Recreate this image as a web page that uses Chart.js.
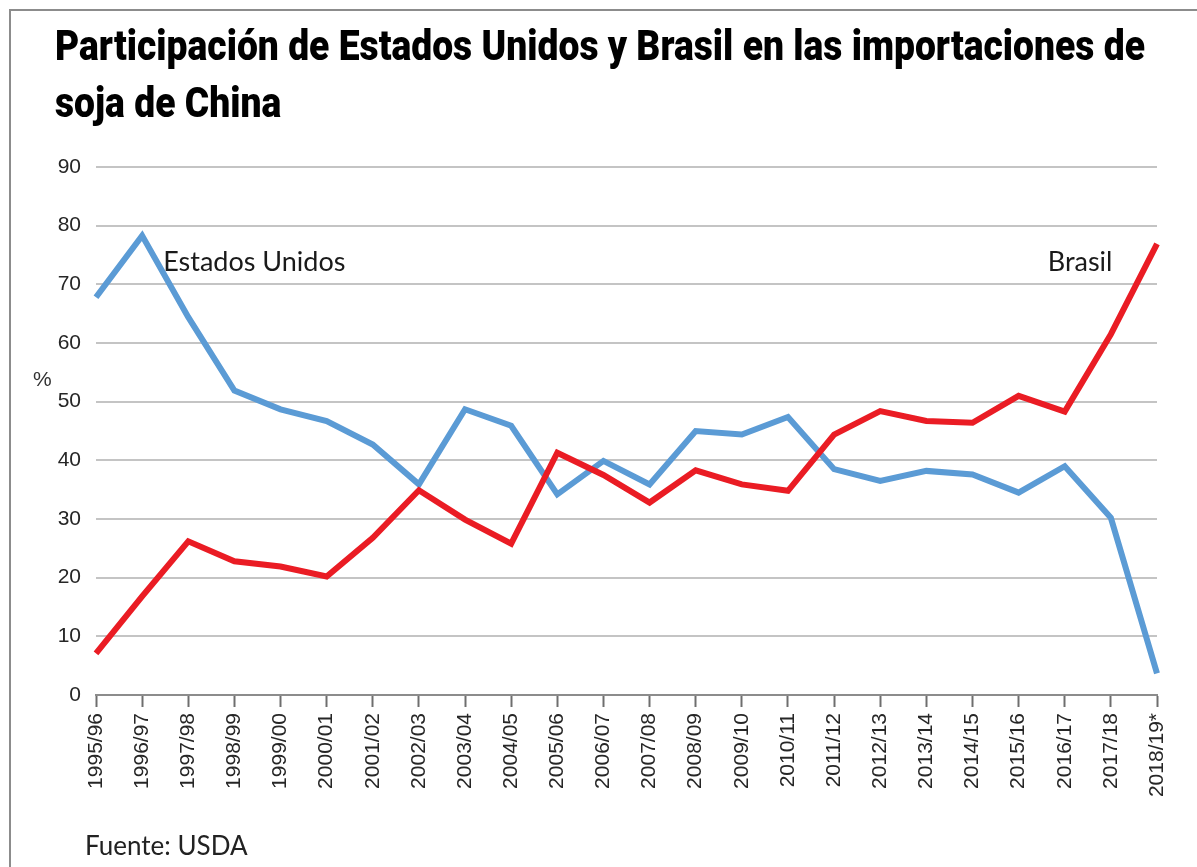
<!DOCTYPE html>
<html>
<head>
<meta charset="utf-8">
<script src="https://cdn.jsdelivr.net/npm/chart.js@4.4.1/dist/chart.umd.min.js"></script>
<style>
  html, body { margin: 0; padding: 0; background: #ffffff; }
  #wrap { position: relative; width: 1197px; height: 867px; overflow: hidden; background: #fff; }
  #frame { position: absolute; left: 9px; top: 9px; width: 1300px; height: 1000px;
           border-top: 2px solid #8c8c8c; border-left: 2px solid #8c8c8c; pointer-events: none; }
  canvas { position: absolute; left: 0; top: 0; }
</style>
</head>
<body>
<div id="wrap">
  <canvas id="c" width="1197" height="867"></canvas>
  <div id="frame"></div>
</div>
<script>
const categories = ['1995/96','1996/97','1997/98','1998/99','1999/00','2000/01','2001/02','2002/03',
  '2003/04','2004/05','2005/06','2006/07','2007/08','2008/09','2009/10','2010/11','2011/12',
  '2012/13','2013/14','2014/15','2015/16','2016/17','2017/18','2018/19*'];
const usShare = [67.8, 78.3, 64.4, 51.9, 48.7, 46.7, 42.7, 35.9, 48.7, 45.9, 34.2, 39.9,
  35.9, 45.0, 44.4, 47.4, 38.5, 36.5, 38.2, 37.6, 34.5, 39.0, 30.2, 3.7];
const brazilShare = [7.1, 16.8, 26.2, 22.8, 21.9, 20.2, 26.8, 34.9, 29.9, 25.8, 41.3, 37.5,
  32.8, 38.3, 35.9, 34.8, 44.4, 48.4, 46.7, 46.4, 51.0, 48.3, 61.5, 76.9];
const yMin = 0, yMax = 90, yStep = 10;
const titleLines = ['Participación de Estados Unidos y Brasil en las importaciones de', 'soja de China'];
const seriesNames = ['Estados Unidos', 'Brasil'];
const yAxisTitle = '%';
const sourceNote = 'Fuente: USDA';

const TICK_FONT = { family: '"Liberation Sans", Arial, sans-serif', size: 21 };
const LABEL_FAMILY = 'Lato, "Open Sans", sans-serif';

const textPlugin = {
  id: 'texts',
  afterDraw(chart) {
    const ctx = chart.ctx;
    const xs = chart.scales.x, ys = chart.scales.y;
    ctx.save();
    ctx.fillStyle = '#000';
    ctx.textBaseline = 'alphabetic';
    ctx.textAlign = 'left';
    ctx.font = '900 42px Roboto, "Liberation Sans", sans-serif';
    const w1 = ctx.measureText(titleLines[0]).width;
    const sx = 1090 / w1;
    [[titleLines[0], 60], [titleLines[1], 117]].forEach(([t, y]) => {
      ctx.save();
      ctx.translate(55, y);
      ctx.scale(sx, 1);
      ctx.fillText(t, 0, 0);
      ctx.restore();
    });
    ctx.fillStyle = '#1a1a1a';
    ctx.font = '27px ' + LABEL_FAMILY;
    ctx.fillText(seriesNames[0], xs.getPixelForValue(1) + 21, ys.getPixelForValue(72.3));
    ctx.fillText(seriesNames[1], xs.getPixelForValue(21) - 17, ys.getPixelForValue(72.3));
    ctx.fillStyle = '#333';
    ctx.font = '21px "Liberation Sans", Arial, sans-serif';
    ctx.fillText(yAxisTitle, 33, 386);
    ctx.fillStyle = '#222';
    ctx.font = '26px ' + LABEL_FAMILY;
    ctx.fillText(sourceNote, 85, 855);
    ctx.restore();
  }
};

new Chart(document.getElementById('c'), {
  type: 'line',
  data: {
    labels: categories,
    datasets: [
      { label: seriesNames[1], data: brazilShare, borderColor: '#ea1c24', borderWidth: 6,
        pointRadius: 0, tension: 0, borderJoinStyle: 'miter', order: 0 },
      { label: seriesNames[0], data: usShare, borderColor: '#5b9bd5', borderWidth: 6,
        pointRadius: 0, tension: 0, borderJoinStyle: 'miter', order: 1 }
    ]
  },
  options: {
    responsive: false,
    animation: false,
    devicePixelRatio: 1,
    layout: { padding: { top: 167, right: 40, left: 0, bottom: 0 } },
    plugins: { legend: { display: false }, tooltip: { enabled: false }, title: { display: false } },
    scales: {
      x: {
        type: 'category',
        offset: false,
        grid: { drawOnChartArea: false, drawTicks: true, tickLength: 12, tickColor: '#6e6e6e', tickWidth: 2 },
        border: { display: true, color: '#8c8c8c', width: 2 },
        ticks: { autoSkip: false, minRotation: 90, maxRotation: 90, padding: 6, color: '#262626', font: TICK_FONT },
        afterFit(scale) { scale.height = 172; }
      },
      y: {
        min: yMin, max: yMax,
        grid: { color: '#c4c4c4', lineWidth: 2, drawTicks: false },
        border: { display: false },
        ticks: { stepSize: yStep, padding: 15, color: '#262626', font: TICK_FONT },
        afterFit(scale) { scale.width = 96; }
      }
    }
  },
  plugins: [textPlugin]
});
</script>
</body>
</html>
